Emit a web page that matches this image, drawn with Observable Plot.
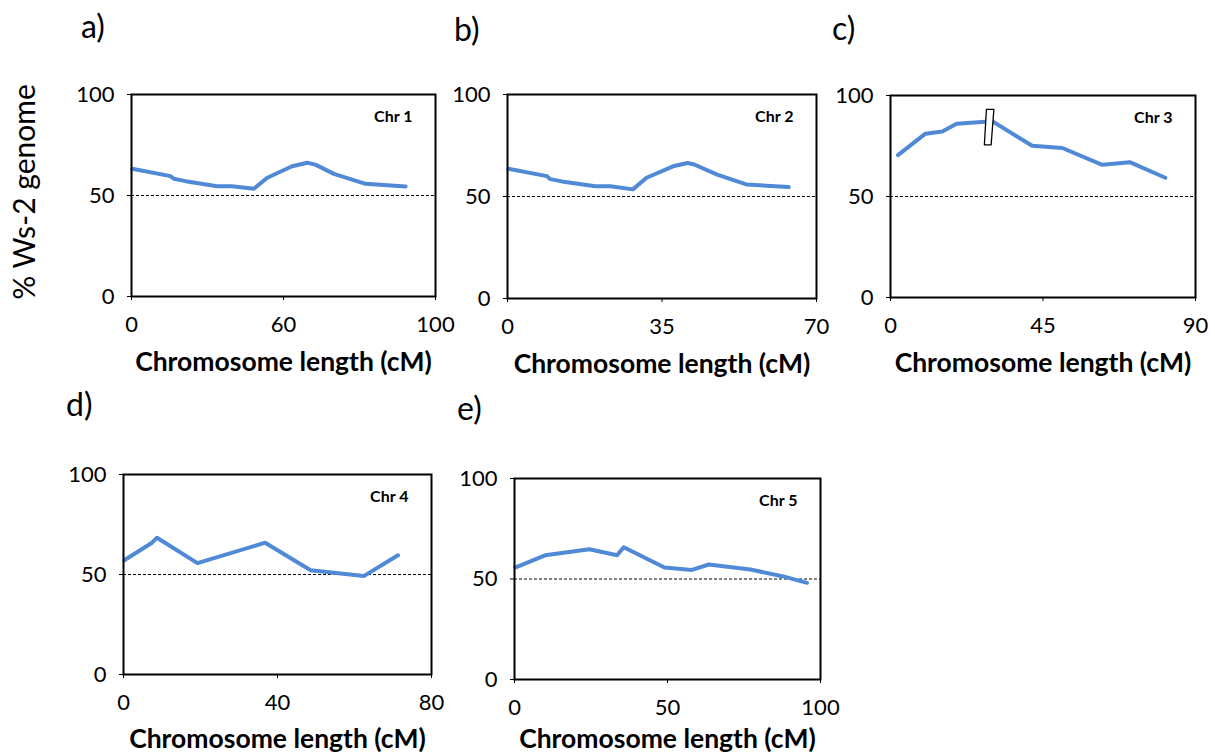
<!DOCTYPE html>
<html><head><meta charset="utf-8">
<script src="https://cdn.jsdelivr.net/npm/d3@7"></script>
<script src="https://cdn.jsdelivr.net/npm/@observablehq/plot@0.6"></script>
<style>
html,body{margin:0;padding:0;background:#fff;}
body{width:1215px;height:756px;overflow:hidden;position:relative;font-family:Lato,sans-serif;}
.panel{position:absolute;}
#overlay{position:absolute;left:0;top:0;}
</style></head><body>
<script>
// ---- data ----
const chromosomes = ["Chr 1","Chr 2","Chr 3","Chr 4","Chr 5"];
const panelLetters = ["a)","b)","c)","d)","e)"];
const chr1Pos = [0.3,15.4,16.7,21.3,33.8,39.7,48.3,53.6,63.4,69.4,72.6,79.9,92.4,108.2];
const chr1Ws2 = [63.2,59.6,58.3,57.1,54.6,54.6,53.3,58.8,64.5,66.2,65.3,60.7,55.8,54.5];
const chr2Pos = [0.2,8.9,9.7,12.3,19.9,23.3,28.4,31.5,37.5,40.8,42.3,47.5,54.1,63.7];
const chr2Ws2 = [63.6,60.0,58.5,57.4,55.0,55.0,53.5,59.2,64.8,66.4,65.7,60.7,55.9,54.6];
const chr3Pos = [2.2,10.3,15.3,19.5,30.0,41.8,50.7,62.5,70.6,81.1];
const chr3Ws2 = [70.5,81.1,82.2,86.0,87.3,75.1,74.0,65.7,67.0,59.3];
const chr4Pos = [0.2,7.4,8.7,19.2,36.8,48.6,62.4,71.3];
const chr4Ws2 = [57.1,65.9,68.4,55.7,65.9,52.1,49.2,59.6];
const chr5Pos = [0.2,10.0,24.5,33.5,35.7,49.0,58.0,63.5,77.1,87.5,95.6];
const chr5Ws2 = [55.7,61.8,64.8,61.8,65.8,55.7,54.5,57.2,54.7,51.4,48.1];
const xMax = [120,70,90,80,100];
const xTicks = [[0,60,120],[0,35,70],[0,45,90],[0,40,80],[0,50,100]];
const xTickLabels = [["0","60","100"],["0","35","70"],["0","45","90"],["0","40","80"],["0","50","100"]];
const yTicks = [0,50,100];
const threshold = 50;
const xTitle = "Chromosome length (cM)";
const yTitle = "% Ws-2 genome";
// break marker drawn on Chr 3 (data units)
const breakMarkX = [28.3,30.5,29.7,27.7,28.3];
const breakMarkY = [93.1,93.1,75.6,75.6,93.1];

const positions = [chr1Pos,chr2Pos,chr3Pos,chr4Pos,chr5Pos];
const values = [chr1Ws2,chr2Ws2,chr3Ws2,chr4Ws2,chr5Ws2];

// ---- layout ----
const frames = [
  {L:131,T:94,W:304,H:202,tdy:66},
  {L:507,T:94,W:309,H:204,tdy:66},
  {L:890,T:95,W:305,H:202,tdy:66},
  {L:123,T:474,W:308,H:200,tdy:65},
  {L:514,T:478,W:306,H:201,tdy:60}
];
const mL=70, mR=20, mT=10, mB=90;
const blue = "#5089d6";
const FONT = "Lato, 'Open Sans', sans-serif";

frames.forEach((f,i)=>{
  const data = positions[i].map((x,j)=>({x, y: values[i][j]}));
  const labelMap = new Map(xTicks[i].map((t,k)=>[t, xTickLabels[i][k]]));
  const marks = [
    Plot.ruleY([threshold], {stroke:"#000", strokeWidth:1, strokeDasharray:"3,2"}),
    Plot.line(data, {x:"x", y:"y", stroke:blue, strokeWidth:4, strokeLinejoin:"round", strokeLinecap:"round"}),
  ];
  if (i === 2) {
    const bm = breakMarkX.map((x,k)=>({x, y: breakMarkY[k]}));
    marks.push(Plot.line(bm, {x:"x", y:"y", stroke:"#000", strokeWidth:1.3, fill:"#fff"}));
  }
  marks.push(
    Plot.frame({stroke:"#000", strokeWidth:2}),
    Plot.axisY({ticks:yTicks, tickSize:4, tickPadding:13, label:null, fontSize:22}),
    Plot.axisX({ticks:xTicks[i], tickFormat:d=>labelMap.get(d), tickSize:4, tickPadding:16, label:null, fontSize:22}),
    Plot.text([chromosomes[i]], {text:d=>d, frameAnchor:"top-right", lineAnchor:"middle", dx:-23, dy:22, fontSize:16, fontWeight:"bold"}),
    Plot.text([xTitle], {text:d=>d, frameAnchor:"bottom", lineAnchor:"middle", dy:f.tdy, fontSize:26.5, fontWeight:"bold"})
  );
  const p = Plot.plot({
    width: f.W+mL+mR, height: f.H+mT+mB,
    marginLeft:mL, marginRight:mR, marginTop:mT, marginBottom:mB,
    style:{fontFamily:FONT, fontSize:"22px", color:"#000", background:"transparent", overflow:"visible"},
    x:{domain:[0,xMax[i]]},
    y:{domain:[0,100]},
    marks
  });
  p.classList.add("panel");
  p.style.left = (f.L-mL)+"px";
  p.style.top = (f.T-mT)+"px";
  document.body.appendChild(p);
});

// overlay: panel letters and y title
const svg = d3.select(document.body).append("svg").attr("id","overlay")
  .attr("width",1215).attr("height",756).style("font-family",FONT);
const letterPos = [[81,38],[454,41],[832,40],[66,416],[457,420]];
panelLetters.forEach((t,i)=>{
  svg.append("text").attr("x",letterPos[i][0]).attr("y",letterPos[i][1])
    .attr("font-size",32).attr("fill","#000").text(t);
});
svg.append("text").attr("transform","translate(35,192) rotate(-90)")
  .attr("text-anchor","middle").attr("font-size",30).attr("fill","#000").text(yTitle);
</script>
</body></html>
